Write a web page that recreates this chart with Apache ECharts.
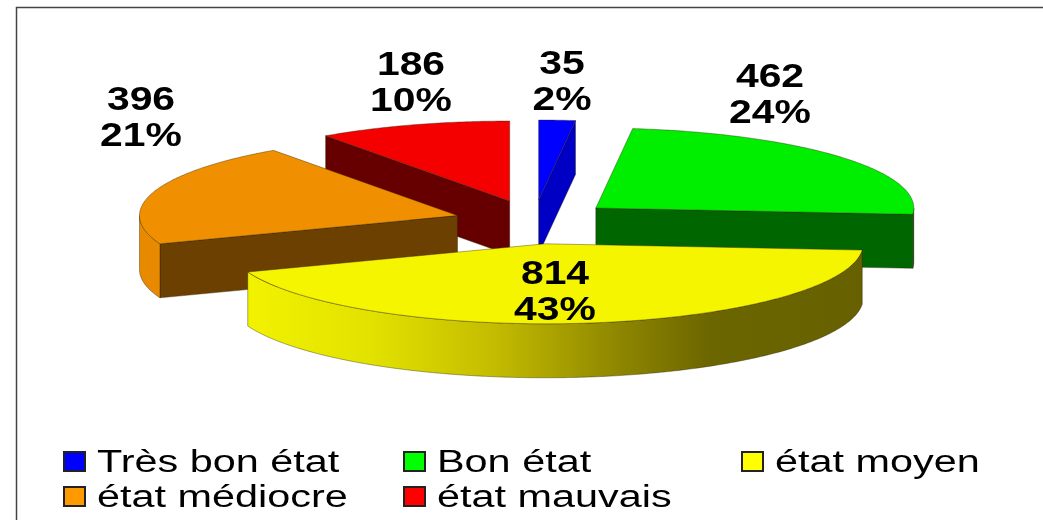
<!DOCTYPE html>
<html>
<head>
<meta charset="utf-8">
<title>Etat</title>
<style>
    html, body { margin: 0; padding: 0; background: #fff; }
    #chart { width: 1043px; height: 520px; }
</style>
<script src="https://cdn.jsdelivr.net/npm/echarts@6/dist/echarts.min.js"></script>
</head>
<body>
<div id="chart"></div>
<script>
var categories = ['Très bon état', 'Bon état', 'état moyen', 'état médiocre', 'état mauvais'];
var values = [35, 462, 814, 396, 186];

// styles per slice
var topColors = ['#0000ff', '#00ee00', '#f5f500', '#f09000', '#f50000'];
var cutColors = ['#0000c4', '#006600', '#666600', '#6b4000', '#660000'];
var legendColors = ['#0000ff', '#00ff00', '#ffff00', '#ff9900', '#ff0000'];
var rimColors = [
    '#0000c4',
    '#006600',
    { type: 'linear', x: 0, y: 0, x2: 1, y2: 0, colorStops: [
        { offset: 0, color: '#f2f200' },
        { offset: 0.2, color: '#e2e200' },
        { offset: 0.4, color: '#c4bc00' },
        { offset: 0.6, color: '#8f8700' },
        { offset: 0.75, color: '#6c6600' },
        { offset: 1, color: '#666000' }
    ] },
    '#e88a00',
    '#660000'
];

// layout of the pie
var cx = 534, cy = 222;      // pie centre before exploding
var rx = 318, ry = 80;       // top ellipse
var exX = 80, exY = 22;      // explosion of each slice
var depth = 54;
var labelStretch = 1.22;     // the source picture is stretched sideways
var legendStretch = 1.335;

var labelAt = [[562, 83], [770, 96], [555, 293], [141, 119], [411, 84]];
var legendAt = [[63, 462], [403, 462], [741, 462], [63, 497], [403, 497]];
var drawOrder = [0, 4, 1, 3, 2];

var total = values.reduce(function (a, b) { return a + b; }, 0);

var sliceAngles = function (idx) {
    var sum = 0;
    for (var i = 0; i < idx; i++) {
        sum += values[i];
    }
    return [sum / total * 2 * Math.PI, (sum + values[idx]) / total * 2 * Math.PI];
}

var arcPoints = function (ax, ay, from, to, dy) {
    var pts = [];
    var n = Math.max(2, Math.ceil((to - from) * 80));
    for (var i = 0; i <= n; i++) {
        var t = from + (to - from) * i / n;
        pts.push([ax + rx * Math.sin(t), ay - ry * Math.cos(t) + dy]);
    }
    return pts;
}

var poly = function (points, fill) {
    return {
        type: 'polygon',
        shape: { points: points },
        style: { fill: fill, stroke: 'rgba(40,30,0,0.55)', lineWidth: 0.7 }
    };
}

var cutFace = function (ax, ay, angle, fill) {
    var ox = ax + rx * Math.sin(angle);
    var oy = ay - ry * Math.cos(angle);
    return poly([[ax, ay], [ox, oy], [ox, oy + depth], [ax, ay + depth]], fill);
}

var renderSlice = function (idx, value) {
    var ang = sliceAngles(idx);
    var mid = (ang[0] + ang[1]) / 2;
    var ax = cx + exX * Math.sin(mid);
    var ay = cy - exY * Math.cos(mid);
    var children = [];

    // only faces turned to the viewer are drawn
    if (Math.sin(ang[0]) < -0.001) {
        children.push(cutFace(ax, ay, ang[0], cutColors[idx]));
    }
    if (Math.sin(ang[1]) > 0.001) {
        children.push(cutFace(ax, ay, ang[1], cutColors[idx]));
    }
    var rimFrom = Math.max(ang[0], Math.PI / 2);
    var rimTo = Math.min(ang[1], Math.PI * 3 / 2);
    if (rimTo > rimFrom) {
        var rim = arcPoints(ax, ay, rimFrom, rimTo, 0).concat(arcPoints(ax, ay, rimFrom, rimTo, depth).reverse());
        children.push(poly(rim, rimColors[idx]));
    }
    children.push(poly([[ax, ay]].concat(arcPoints(ax, ay, ang[0], ang[1], 0)), topColors[idx]));

    children.push({
        type: 'text',
        x: labelAt[idx][0],
        y: labelAt[idx][1],
        scaleX: labelStretch,
        z2: 10,
        style: {
            text: value + '\n' + Math.round(value / total * 100) + '%',
            fill: '#000',
            font: 'bold 33.5px "Liberation Sans", Arial, sans-serif',
            lineHeight: 36,
            align: 'center',
            verticalAlign: 'middle'
        }
    });
    return { type: 'group', children: children };
}

var buildSeries = function () {
    return drawOrder.map(function (idx) {
        return {
            name: categories[idx],
            type: 'custom',
            coordinateSystem: 'none',
            silent: true,
            animation: false,
            data: [[values[idx]]],
            renderItem: function (params, api) {
                return renderSlice(idx, api.value(0));
            }
        };
    });
}

var buildGraphic = function () {
    var items = [{
        type: 'polyline',
        shape: { points: [[16.5, 520], [16.5, 7.5], [1043, 7.5]] },
        style: { fill: 'none', stroke: '#444', lineWidth: 1.5 }
    }];
    categories.forEach(function (name, i) {
        items.push({
            type: 'rect',
            shape: { x: legendAt[i][0] + 1, y: legendAt[i][1] - 10, width: 21, height: 19 },
            style: { fill: legendColors[i], stroke: '#222', lineWidth: 2 }
        });
        items.push({
            type: 'text',
            x: legendAt[i][0] + 34,
            y: legendAt[i][1] + 1,
            scaleX: legendStretch,
            style: {
                text: name,
                fill: '#000',
                font: '31px "Liberation Sans", Arial, sans-serif',
                align: 'left',
                verticalAlign: 'middle'
            }
        });
    });
    return items;
}

var myChart = echarts.init(document.getElementById('chart'));
myChart.setOption({
    animation: false,
    backgroundColor: '#fff',
    series: buildSeries(),
    graphic: { elements: buildGraphic() }
});
</script>
</body>
</html>
